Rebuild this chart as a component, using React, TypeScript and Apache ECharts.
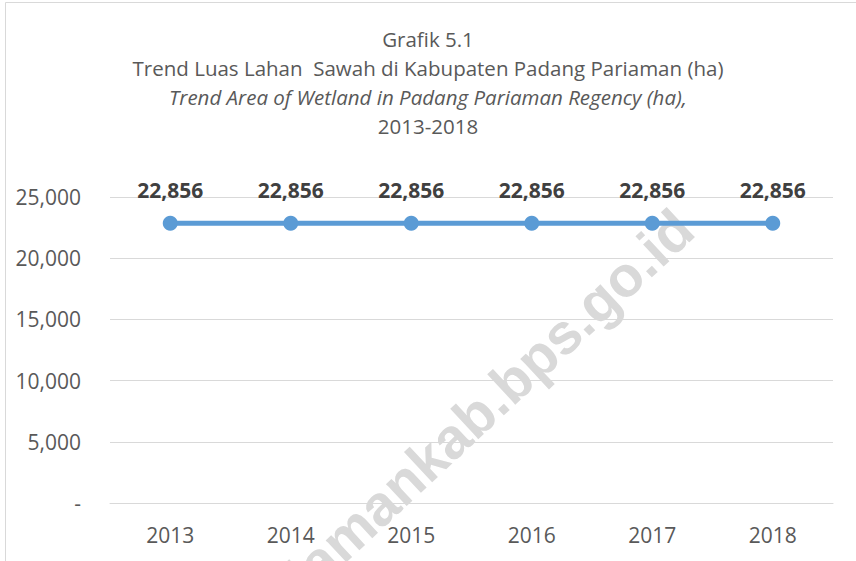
import React, { useEffect, useRef } from "react";
import * as echarts from "echarts";

const years = ["2013", "2014", "2015", "2016", "2017", "2018"];
const luasSawah = [22856, 22856, 22856, 22856, 22856, 22856];
const titleLines = [
  "Grafik 5.1",
  "Trend Luas Lahan  Sawah di Kabupaten Padang Pariaman (ha)",
  "Trend Area of Wetland in Padang Pariaman Regency (ha),",
  "2013-2018",
];
const watermark = "padangpariamankab.bps.go.id";

const FONT = "'Open Sans', 'Noto Sans', sans-serif";

export default function App() {
  const ref = useRef<HTMLDivElement>(null);
  useEffect(() => {
    document.body.style.margin = "0";
    const chart = echarts.init(ref.current!, null, { renderer: "svg" });
    const titleY = [39, 68, 97, 126];
    chart.setOption({
      animation: false,
      backgroundColor: "#ffffff",
      graphic: [
        {
          type: "rect",
          shape: { x: 5.5, y: 2.5, width: 900, height: 600 },
          style: { fill: "none", stroke: "#d9d9d9", lineWidth: 1 },
          z: 0,
        },
        ...titleLines.map((t, i) => ({
          type: "text",
          x: 428,
          y: titleY[i],
          style: {
            text: t,
            fill: "#595959",
            font: `${i === 2 ? "italic " : ""}20.5px ${FONT}`,
            textAlign: "center",
            textVerticalAlign: "middle",
          },
          z: 10,
        })),
        {
          type: "text",
          x: 684,
          y: 220,
          rotation: (43 * Math.PI) / 180,
          style: {
            text: watermark,
            fill: "#d9d9d9",
            font: `bold 57px 'Liberation Sans', Arial, sans-serif`,
            textAlign: "right",
            textVerticalAlign: "middle",
          },
          z: -1,
        },
      ],
      grid: { left: 110, right: 23, top: 197, bottom: 58, containLabel: false },
      xAxis: {
        type: "category",
        data: years,
        boundaryGap: true,
        axisLine: { show: true, lineStyle: { color: "#d9d9d9", width: 1 } },
        axisTick: { show: false },
        axisLabel: { color: "#595959", fontSize: 21, fontFamily: FONT, margin: 21 },
      },
      yAxis: {
        type: "value",
        min: 0,
        max: 25000,
        interval: 5000,
        axisLine: { show: false },
        axisTick: { show: false },
        splitLine: { lineStyle: { color: "#d9d9d9", width: 1 } },
        axisLabel: {
          color: "#595959",
          fontSize: 21,
          fontFamily: FONT,
          margin: 29,
          formatter: (v: number) => (v === 0 ? "-" : v.toLocaleString("en-US")),
        },
      },
      series: [
        {
          type: "line",
          data: luasSawah,
          symbol: "circle",
          symbolSize: 15,
          lineStyle: { color: "#5b9bd5", width: 5 },
          itemStyle: { color: "#5b9bd5" },
          label: {
            show: true,
            position: "top",
            distance: 15,
            color: "#404040",
            fontSize: 21,
            fontWeight: "bold",
            fontFamily: FONT,
            formatter: (p: any) => Number(p.value).toLocaleString("en-US"),
          },
          z: 5,
        },
      ],
    });
    return () => chart.dispose();
  }, []);
  return <div ref={ref} style={{ width: 856, height: 561 }} />;
}
